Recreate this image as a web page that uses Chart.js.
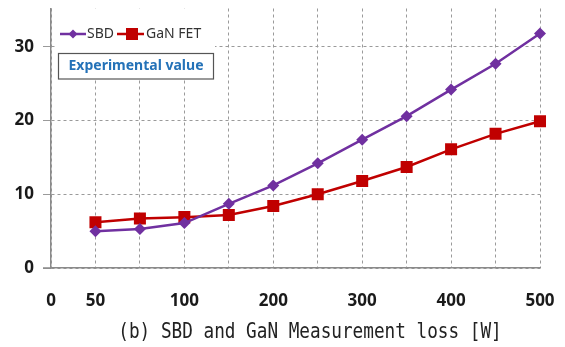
<!DOCTYPE html>
<html><head><meta charset="utf-8">
<script src="https://cdn.jsdelivr.net/npm/chart.js@4"></script>
<style>html,body{margin:0;padding:0;background:#fff;}canvas{display:block;}</style>
</head><body>
<canvas id="c" width="565" height="347"></canvas>
<script>
// x categories (power, W); index 0 is the axis origin "0"
const categories = [0, 50, 75, 100, 150, 200, 250, 300, 350, 400, 450, 500];
const tickLabels = ['0', '50', '', '100', '', '200', '', '300', '', '400', '', '500'];
const sbdValues = [null, 5.0, 5.3, 6.1, 8.7, 11.2, 14.2, 17.4, 20.6, 24.2, 27.7, 31.8];
const ganValues = [null, 6.2, 6.7, 6.9, 7.2, 8.4, 10.0, 11.8, 13.7, 16.1, 18.2, 19.9];
const yTicks = [0, 10, 20, 30];
const seriesNames = ['SBD', 'GaN FET'];
const boxText = 'Experimental value';
const xTitle = '(b) SBD and GaN Measurement loss [W]';

const PURPLE = '#7030A0', RED = '#C00000';
const AXIS = '#8a8a8a';

const overlay = {
  id: 'overlay',
  afterDraw(chart) {
    const ctx = chart.ctx;
    const a = chart.chartArea;
    ctx.save();
    // solid extension of the x axis line to the left
    ctx.strokeStyle = AXIS;
    ctx.lineWidth = 1.5;
    ctx.beginPath(); ctx.moveTo(a.left - 8, a.bottom); ctx.lineTo(a.left, a.bottom); ctx.stroke();
    // white legend background
    ctx.fillStyle = '#fff';
    ctx.fillRect(a.left + 6, a.top, 158, 46);
    // legend entries
    const ly = 34;
    ctx.lineWidth = 2.5;
    ctx.strokeStyle = PURPLE;
    ctx.beginPath(); ctx.moveTo(60, ly); ctx.lineTo(86, ly); ctx.stroke();
    ctx.fillStyle = PURPLE;
    ctx.beginPath(); ctx.moveTo(73, ly - 4.5); ctx.lineTo(77.5, ly); ctx.lineTo(73, ly + 4.5); ctx.lineTo(68.5, ly); ctx.closePath(); ctx.fill();
    ctx.strokeStyle = RED;
    ctx.beginPath(); ctx.moveTo(117, ly); ctx.lineTo(144, ly); ctx.stroke();
    ctx.fillStyle = RED;
    ctx.fillRect(126, ly - 6, 12, 12);
    ctx.fillStyle = '#333';
    ctx.font = '14px "Noto Sans"';
    ctx.textBaseline = 'middle';
    ctx.textAlign = 'left';
    ctx.fillText(seriesNames[0], 87, ly);
    ctx.fillText(seriesNames[1], 146, ly);
    // boxed label
    ctx.fillStyle = '#fff';
    ctx.fillRect(58, 53, 156, 26);
    ctx.strokeStyle = '#555';
    ctx.lineWidth = 1.2;
    ctx.strokeRect(58.5, 53.5, 155, 25.5);
    ctx.fillStyle = '#2472B8';
    ctx.font = 'bold 14px "Noto Sans"';
    ctx.textAlign = 'center';
    ctx.fillText(boxText, 136, 66.5);
    // bottom title
    ctx.fillStyle = '#222';
    ctx.font = '17.7px "DejaVu Sans Mono"';
    ctx.textBaseline = 'alphabetic';
    ctx.translate(310, 338);
    ctx.scale(1, 1.15);
    ctx.fillText(xTitle, 0, 0);
    ctx.restore();
  }
};

new Chart(document.getElementById('c'), {
  type: 'line',
  data: {
    labels: tickLabels,
    datasets: [
      { label: seriesNames[0], data: sbdValues, borderColor: PURPLE, backgroundColor: PURPLE,
        borderWidth: 2.5, pointStyle: 'rectRot', pointRadius: 6, pointBorderWidth: 0, tension: 0 },
      { label: seriesNames[1], data: ganValues, borderColor: RED, backgroundColor: RED,
        borderWidth: 2.5, pointStyle: 'rect', pointRadius: 8.5, pointBorderWidth: 0, tension: 0 }
    ]
  },
  options: {
    responsive: false,
    animation: false,
    layout: { padding: { left: 0, top: 5, right: 25, bottom: 0 } },
    plugins: { legend: { display: false }, tooltip: { enabled: false } },
    scales: {
      x: {
        type: 'category',
        offset: false,
        grid: { color: '#9a9a9a', lineWidth: 1, drawTicks: false },
        border: { display: true, color: AXIS, width: 1.5, dash: [3, 3] },
        ticks: { autoSkip: false, maxRotation: 0, minRotation: 0, padding: 23,
                 color: '#1a1a1a', font: { family: '"Noto Sans"', size: 17, weight: 'bold' } },
        afterFit(s) { s.height = 79; s.paddingLeft = 0; s.paddingRight = 0; }
      },
      y: {
        min: 0, max: 35.2,
        afterBuildTicks(s) { s.ticks = yTicks.map(v => ({ value: v })); },
        grid: { color: '#9a9a9a', lineWidth: 1, drawTicks: true, tickLength: 8 },
        border: { display: true, color: AXIS, width: 1.5, dash: [3, 3] },
        ticks: { padding: 9, color: '#1a1a1a', font: { family: '"Noto Sans"', size: 17, weight: 'bold' } },
        afterFit(s) { s.width = 51; s.paddingTop = 0; s.paddingBottom = 0; }
      }
    }
  },
  plugins: [overlay]
});
</script>
</body></html>
